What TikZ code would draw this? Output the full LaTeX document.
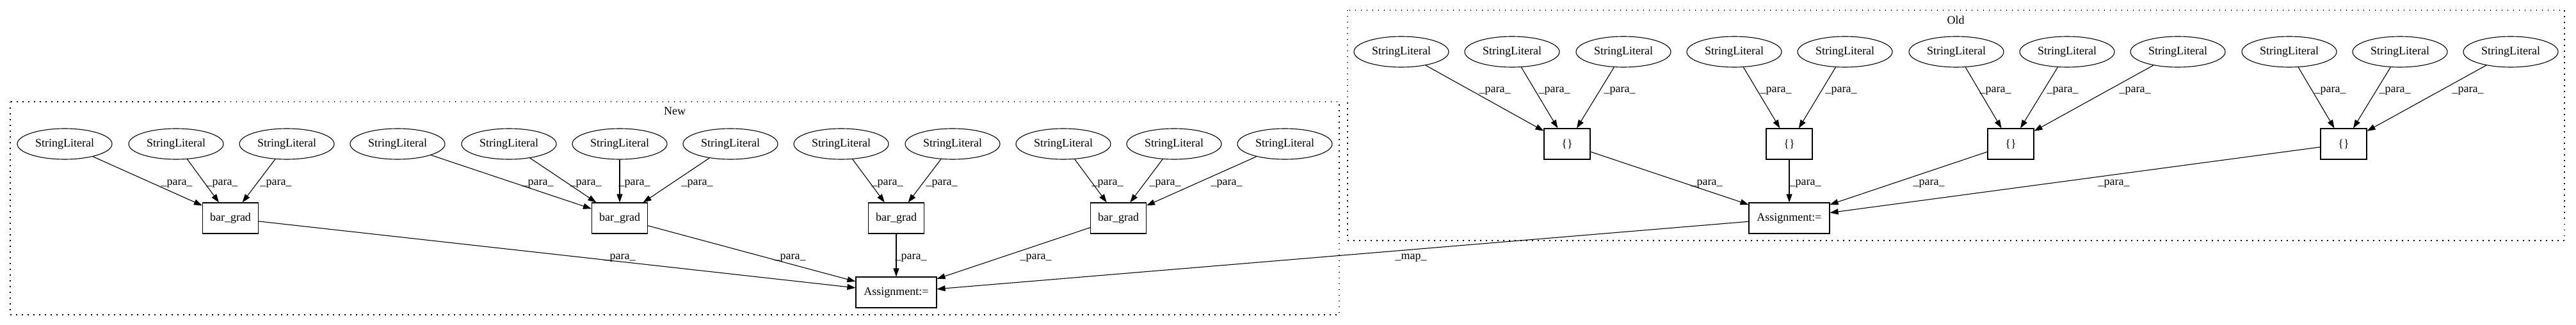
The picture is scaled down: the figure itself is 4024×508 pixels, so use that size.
\documentclass[tikz,border=0pt]{standalone}
\usepackage{fontspec}
\setmainfont{Liberation Serif}
\usetikzlibrary{arrows.meta,shapes.geometric}
\tikzset{
  lit/.style={ellipse, draw, line width=1.1pt, minimum width=148pt, minimum height=48pt, inner sep=0pt},
  opbox/.style={rectangle, draw, line width=1.1pt, minimum height=48pt, inner sep=0pt},
  edgeline/.style={line width=1.1pt, -{Triangle[length=13pt,width=9pt]}},
  lbl/.style={anchor=base, inner sep=0pt},
  cluster/.style={line width=1.4pt, dash pattern=on 1.5pt off 7.5pt},
}
\begin{document}
\begin{tikzpicture}[x=1pt, y=-1pt, font=\fontsize{18}{21}\selectfont]
\useasboundingbox (0,0) rectangle (4024,508);
% clusters
\draw[cluster] (16,159) rectangle (2092,492);
\draw[cluster] (2105,16) rectangle (4006,376);
\node (newlbl) at (1054,174) {New};
\node (oldlbl) at (3055,31) {Old};
% New cluster nodes
\foreach \i/\x in {1/101,2/275,3/448,4/621,5/795,6/968,7/1141,8/1314,9/1488,10/1661,11/1834,12/2007}
  \node[lit] (e\i) at (\x,225) {StringLiteral};
\node[opbox, minimum width=87pt] (b1) at (360,341) {bar\_grad};
\node[opbox, minimum width=87pt] (b2) at (968,341) {bar\_grad};
\node[opbox, minimum width=87pt] (b3) at (1400,341) {bar\_grad};
\node[opbox, minimum width=87pt] (b4) at (1747,341) {bar\_grad};
\node[opbox, minimum width=126pt] (an) at (1400,457) {Assignment:=};
% Old cluster nodes
\foreach \i/\x in {1/2189,2/2362,3/2536,4/2709,5/2882,6/3056,7/3229,8/3402,9/3576,10/3749,11/3922}
  \node[lit] (o\i) at (\x,81) {StringLiteral};
\node[opbox, minimum width=72pt] (c1) at (2448,225) {\{\}};
\node[opbox, minimum width=72pt] (c2) at (2795,225) {\{\}};
\node[opbox, minimum width=72pt] (c3) at (3141,225) {\{\}};
\node[opbox, minimum width=72pt] (c4) at (3661,225) {\{\}};
\node[opbox, minimum width=126pt] (ao) at (2795,341) {Assignment:=};
% New edges
\foreach \s/\t in {e1/b1,e2/b1,e3/b1,e4/b2,e5/b2,e6/b2,e7/b2,e8/b3,e9/b3,e10/b4,e11/b4,e12/b4,b1/an,b2/an,b3/an,b4/an}
  \draw[edgeline] (\s) -- (\t);
% Old edges
\foreach \s/\t in {o1/c1,o2/c1,o3/c1,o4/c2,o5/c2,o6/c3,o7/c3,o8/c3,o9/c4,o10/c4,o11/c4,c1/ao,c2/ao,c3/ao,c4/ao}
  \draw[edgeline] (\s) -- (\t);
\draw[edgeline] (ao) -- (an);
% edge labels
\foreach \x [count=\k] in {276,347,431,840,915,991,1089,1386,1471,1730,1820,1916}
  \node[lbl] (ln\k) at (\x,289) {\_para\_};
\foreach \x [count=\k] in {968,1234,1423,1618}
  \node[lbl] (lm\k) at (\x,405) {\_para\_};
\node[lbl] (lmap) at (2204,405) {\_map\_};
\foreach \x [count=\k] in {2335,2428,2530,2774,2876,3117,3222,3335,3640,3741,3855}
  \node[lbl] (lo\k) at (\x,145) {\_para\_};
\foreach \x [count=\k] in {2666,2820,3013,3302}
  \node[lbl] (lp\k) at (\x,289) {\_para\_};
\end{tikzpicture}
\end{document}
